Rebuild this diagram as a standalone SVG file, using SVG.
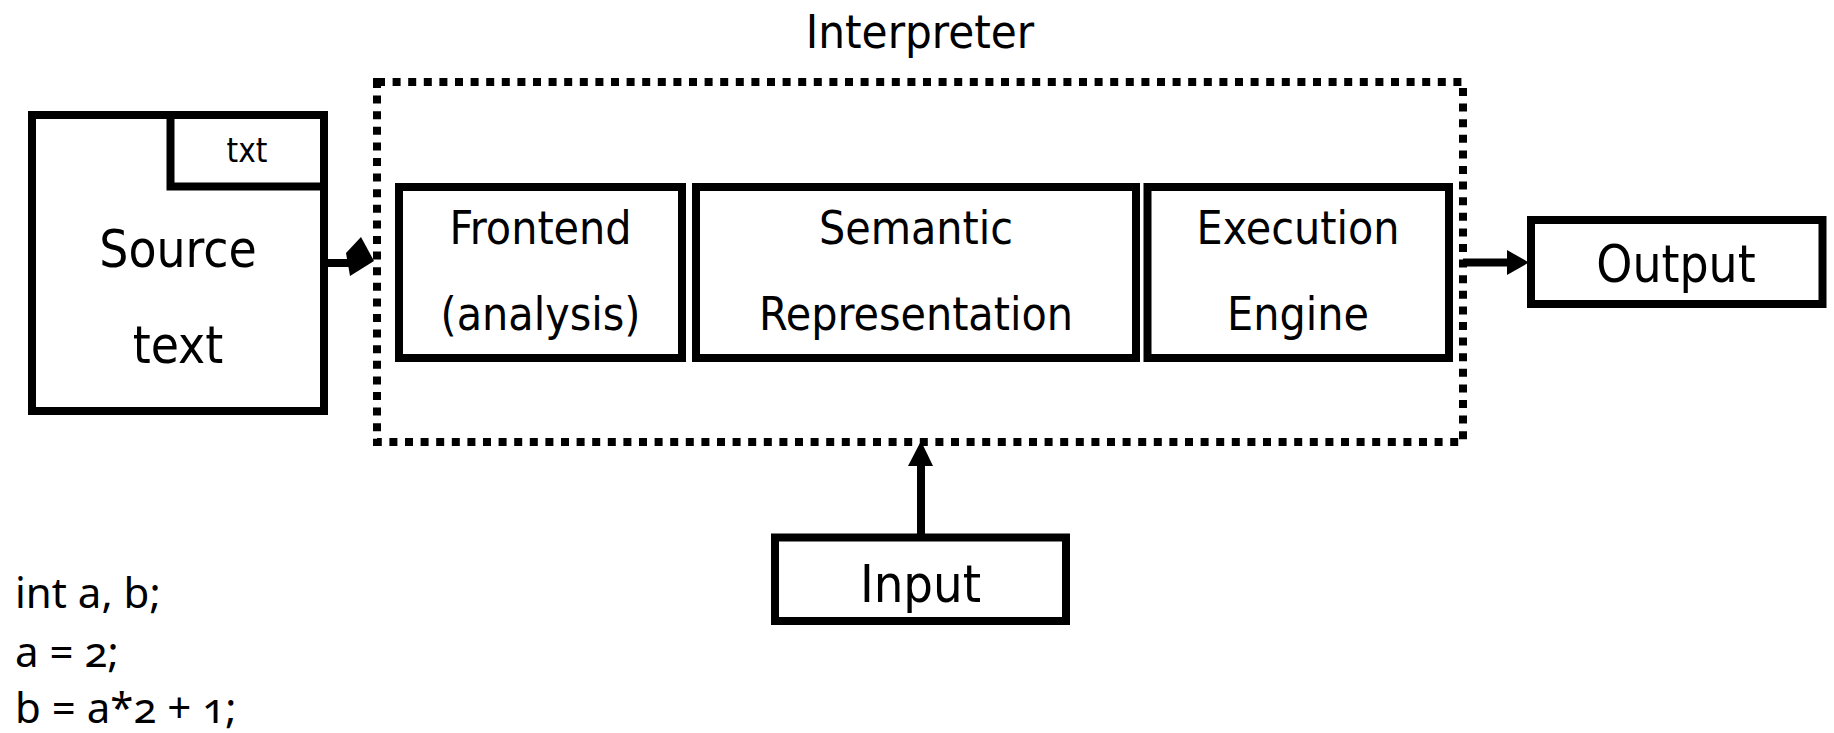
<svg xmlns="http://www.w3.org/2000/svg" width="1834" height="733" viewBox="0 0 1834 733">
  <style>
    .box { fill: #ffffff; stroke: #000000; stroke-width: 8; }
    .lbl { font-family: "DejaVu Sans Condensed", "DejaVu Sans", sans-serif; font-stretch: condensed; fill: #000000; text-anchor: middle; }
    .code { font-family: "Noto Sans", "Open Sans", sans-serif; font-size: 42px; font-variant-numeric: oldstyle-nums; fill: #000000; }
    .wire { fill: none; stroke: #000000; stroke-width: 8; }
    .head { fill: #000000; stroke: none; }
  </style>

  <rect width="1834" height="733" fill="#ffffff"/>

  <!-- Interpreter boundary (dotted) with its title -->
  <g id="interpreter">
    <rect x="377" y="82" width="1086" height="360" fill="none" stroke="#000000" stroke-width="8" stroke-dasharray="8 7.6"/>
    <text class="lbl" x="920" y="48" font-size="47">Interpreter</text>
  </g>

  <!-- Source document with its "txt" tab -->
  <g id="source">
    <rect class="box" x="32" y="115" width="292" height="296"/>
    <path class="wire" d="M170.5 115 V186.5 H324"/>
    <text class="lbl" x="247" y="162" font-size="33">txt</text>
    <text class="lbl" x="178" y="267" font-size="51">Source</text>
    <text class="lbl" x="178" y="363" font-size="51">text</text>
  </g>

  <g id="frontend">
    <rect class="box" x="399" y="187" width="283" height="171"/>
    <text class="lbl" x="540.5" y="244" font-size="46">Frontend</text>
    <text class="lbl" x="540.5" y="330" font-size="46">(analysis)</text>
  </g>

  <g id="semantic">
    <rect class="box" x="696" y="187" width="440" height="171"/>
    <text class="lbl" x="916" y="244" font-size="46">Semantic</text>
    <text class="lbl" x="916" y="330" font-size="46">Representation</text>
  </g>

  <g id="execution">
    <rect class="box" x="1147.5" y="187" width="301.5" height="171"/>
    <text class="lbl" x="1298" y="244" font-size="46">Execution</text>
    <text class="lbl" x="1298" y="330" font-size="46">Engine</text>
  </g>

  <g id="output">
    <rect class="box" x="1531" y="220" width="291.5" height="84"/>
    <text class="lbl" x="1676" y="282" font-size="51">Output</text>
  </g>

  <g id="input">
    <rect class="box" x="775" y="537.5" width="291" height="83.5"/>
    <text class="lbl" x="920.5" y="602" font-size="52">Input</text>
  </g>

  <!-- Sample program -->
  <g id="code">
    <text class="code" x="15" y="608">int a, b;</text>
    <text class="code" x="15" y="667">a = 2;</text>
    <text class="code" x="15" y="723">b = a*2 + 1;</text>
  </g>

  <!-- Connectors -->
  <g id="connectors">
    <path class="wire" d="M327 263 H352"/>
    <polygon class="head" points="361,237 374,261 350,276 346,253"/>

    <path class="wire" d="M1463 262.5 H1510"/>
    <polygon class="head" points="1507,250 1529,262.5 1507,275"/>

    <path class="wire" d="M921 534 V462"/>
    <polygon class="head" points="908,466 921,441 933,466"/>
  </g>
</svg>
